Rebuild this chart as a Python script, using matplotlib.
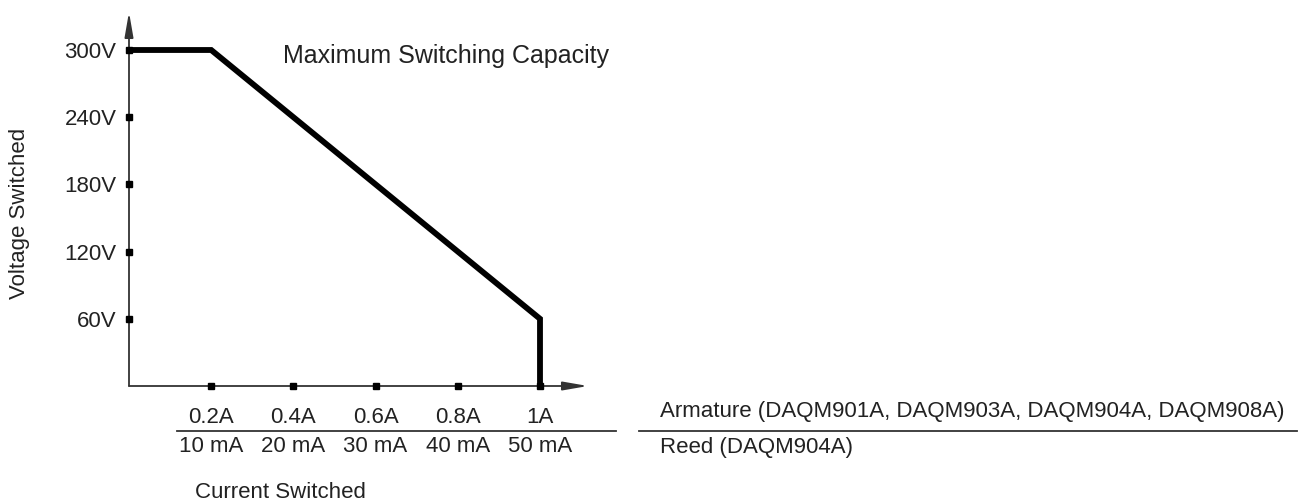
import matplotlib
matplotlib.use("Agg")
import matplotlib.pyplot as plt
from matplotlib.lines import Line2D
import matplotlib.transforms as mtransforms

plt.rcParams['font.family'] = ['Liberation Sans', 'DejaVu Sans']

# ---- data ----
current_a = [0.0, 0.2, 1.0, 1.0]          # A (armature)
voltage_v = [300, 300, 60, 0]            # V
x_ticks = [0.2, 0.4, 0.6, 0.8, 1.0]
x_labels_armature = ["0.2A", "0.4A", "0.6A", "0.8A", "1A"]
x_labels_reed = ["10 mA", "20 mA", "30 mA", "40 mA", "50 mA"]
y_ticks = [60, 120, 180, 240, 300]
y_labels = ["60V", "120V", "180V", "240V", "300V"]
title = "Maximum Switching Capacity"
xlabel = "Current Switched"
ylabel = "Voltage Switched"
legend_armature = "Armature (DAQM901A, DAQM903A, DAQM904A, DAQM908A)"
legend_reed = "Reed (DAQM904A)"

W, H = 1314, 504
fig = plt.figure(figsize=(W / 100, H / 100), dpi=100)
txt = '#222222'

def fx(px):
    return px / W

def fy(py):
    return 1 - py / H

# axes: origin at px (129, 386), arrow tips at x=588, y=12
ax = fig.add_axes([fx(129), fy(386), fx(588) - fx(129), fy(12) - fy(386)])
ax.set_xlim(0, (588 - 129) / 411)
ax.set_ylim(0, (386 - 12) / 1.12)
for s in ax.spines.values():
    s.set_visible(False)
ax.set_facecolor('none')

ax.set_xticks(x_ticks, x_labels_armature)
ax.set_yticks(y_ticks, y_labels)
ax.tick_params(axis='x', length=0, pad=15, labelsize=16, labelcolor=txt)
ax.tick_params(axis='y', length=0, pad=9, labelsize=16, labelcolor=txt)

# axis lines with arrows
arrow_style = '-|>,head_length=0.75,head_width=0.13'
ax.annotate("", xy=(1, 0), xytext=(0, 0), xycoords='axes fraction',
            arrowprops=dict(arrowstyle=arrow_style, lw=1.3, color='#333333',
                            mutation_scale=20, shrinkA=0, shrinkB=0))
ax.annotate("", xy=(0, 1), xytext=(0, 0), xycoords='axes fraction',
            arrowprops=dict(arrowstyle=arrow_style, lw=1.3, color='#333333',
                            mutation_scale=20, shrinkA=0, shrinkB=0))

# tick markers
ax.plot(x_ticks, [0] * len(x_ticks), 's', color='black', ms=5, clip_on=False, zorder=5)
ax.plot([0] * len(y_ticks), y_ticks, 's', color='black', ms=5, clip_on=False, zorder=5)

# curve
ax.plot(current_a, voltage_v, color='black', lw=4.2, solid_joinstyle='miter',
        solid_capstyle='butt', clip_on=False, zorder=6)

# title
fig.text(fx(283), fy(56), title, fontsize=18, color=txt, ha='left', va='center')

# reed row labels
trans = mtransforms.blended_transform_factory(ax.transData, fig.transFigure)
for xv, lab in zip(x_ticks, x_labels_reed):
    ax.text(xv, fy(447), lab, transform=trans, fontsize=16, color=txt,
            ha='center', va='center')

# separator lines
fig.add_artist(Line2D([fx(177), fx(616)], [fy(431), fy(431)], color='#333333', lw=1.3))
fig.add_artist(Line2D([fx(639), fx(1297)], [fy(431), fy(431)], color='#333333', lw=1.3))

fig.text(fx(660), fy(412), legend_armature, fontsize=16, color=txt, ha='left', va='center')
fig.text(fx(660), fy(447), legend_reed, fontsize=16, color=txt, ha='left', va='center')

fig.text(fx(280), fy(492), xlabel, fontsize=16, color=txt, ha='center', va='center')
fig.text(fx(20), fy(213), ylabel, fontsize=16, color=txt, ha='center', va='center',
         rotation=90)

fig.savefig("out.png", dpi=100, facecolor='white')
